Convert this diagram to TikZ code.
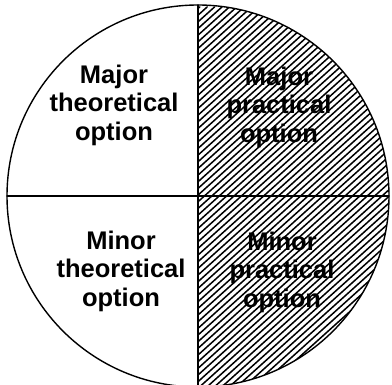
\documentclass[tikz,border=0pt]{standalone}
\usepackage{fontspec}
\setmainfont{Liberation Sans}

\begin{document}
\begin{tikzpicture}[
  x=1pt,y=1pt,
  line cap=round,
  rim/.style={line width=1.4pt,black},
  hatchline/.style={line width=1.5pt,black},
  lab/.style={font=\bfseries\fontsize{25.5}{28.5}\selectfont,align=center,
              inner sep=0pt}
]
\useasboundingbox (0,0) rectangle (392,385);

% ---- Cerc si cadrane ----
\coordinate (O) at (198,189);
\coordinate (N) at (198,380);
\coordinate (S) at (198,-2);
\coordinate (W) at (7,189);
\coordinate (E) at (389,189);

% jumatatea practica hasurata
\begin{scope}
  \clip (N) arc[start angle=90,end angle=-90,radius=191] -- cycle;
  \foreach \i in {-60,...,27}
    \draw[hatchline] ({198+7.4*\i},-10) -- ++(42:580);
\end{scope}

\draw[rim] (O) circle (191);
\draw[rim] (N) -- (S);
\draw[rim] (W) -- (E);

% ---- Etichete ----
\node[lab] (majtheo) at (114,280) {Major\\theoretical\\option};
\node[lab] (majprac) at (279,278) {Major\\practical\\option};
\node[lab] (mintheo) at (121,114) {Minor\\theoretical\\option};
\node[lab] (minprac) at (282,113) {Minor\\practical\\option};

\end{tikzpicture}
\end{document}
